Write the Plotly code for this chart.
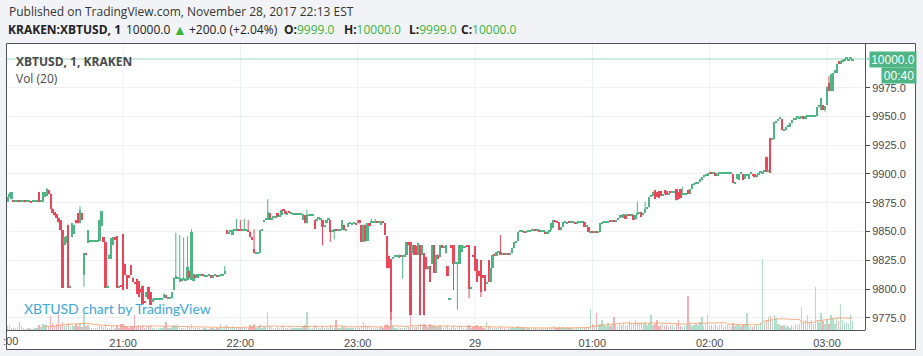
import plotly.graph_objects as go
import pandas as pd

W, H = 923, 356

# ---------------- data (1-minute bars, KRAKEN:XBTUSD) ----------------
start_time = "2017-11-28 20:00"

opens = [
    9870, 9876, 9880, 9878, 9877, 9876, 9876, 9877, 9876, 9876,
    9876.5, 9876, 9876, 9876, 9876, 9876, 9876, 9884, 9876, 9876,
    9880, 9881, 9886, 9883, 9870, 9867, 9865, 9862, 9860, 9851,
    9838, 9840, 9856, 9801, 9845, 9848, 9860, 9866, 9857, 9866,
    9812, 9831, 9840, 9841, 9841, 9841, 9841, 9841, 9842, 9855,
    9845, 9841, 9801, 9826, 9826, 9838, 9845, 9846, 9801, 9803,
    9848, 9822, 9812, 9812, 9821, 9810, 9806, 9809, 9807, 9800,
    9803, 9789, 9793, 9802, 9797, 9789, 9791, 9791, 9791, 9791,
    9791, 9792, 9795, 9792, 9792, 9792, 9799, 9809, 9809, 9806,
    9808, 9808, 9807, 9808, 9816, 9808, 9807, 9812, 9810, 9812,
    9812, 9813, 9811, 9811, 9812, 9812, 9810, 9812, 9812, 9811,
    9812, 9812, 9813, 9851, 9848, 9850, 9847, 9851, 9851, 9852,
    9851, 9851, 9851, 9851, 9851, 9850, 9845, 9835, 9831, 9831,
    9831, 9851, 9858, 9860, 9860, 9866, 9860, 9862, 9862, 9866,
    9863, 9864, 9869, 9868, 9865, 9868, 9866, 9865, 9865, 9865,
    9865, 9865, 9860, 9864, 9857, 9864, 9864, 9864, 9860, 9859,
    9861, 9860, 9860, 9854, 9857, 9860, 9860, 9850, 9850, 9852,
    9851, 9851, 9851, 9856, 9851, 9854, 9857, 9856.5, 9857, 9857,
    9857, 9860, 9856, 9841, 9856, 9842, 9857, 9858, 9858, 9858,
    9859, 9858, 9856, 9859, 9857, 9846, 9829, 9826, 9826, 9828,
    9828, 9827, 9829, 9828, 9828, 9830, 9841, 9841, 9831, 9838,
    9837, 9830, 9838, 9830, 9831, 9828, 9817, 9820, 9822, 9838,
    9814, 9830, 9828, 9838, 9836, 9831, 9820, 9790.5, 9838, 9838,
    9822, 9822, 9822, 9832, 9836, 9836, 9838, 9838, 9800, 9830,
    9837, 9826, 9816, 9825, 9812, 9812, 9805, 9825, 9806, 9818,
    9830, 9829, 9832, 9832, 9830, 9830.5, 9830, 9831, 9830, 9831,
    9836, 9840, 9842, 9850, 9850, 9850, 9849, 9850, 9850, 9851,
    9851, 9852, 9851, 9851, 9850, 9850, 9850, 9848, 9850, 9851,
    9853, 9860, 9859, 9858, 9851, 9854, 9858, 9857, 9858, 9857.5,
    9858, 9858, 9857, 9858, 9858, 9858, 9858, 9854, 9854, 9849.5,
    9850, 9849.5, 9850, 9849, 9850, 9857, 9858, 9858, 9858, 9859,
    9858.5, 9859, 9858, 9860, 9862, 9864, 9862, 9864, 9864, 9864.5,
    9864, 9864, 9861, 9864, 9866, 9867, 9864, 9866, 9870, 9871,
    9880, 9881, 9886, 9884, 9885, 9885, 9881, 9886, 9885, 9882,
    9885, 9884, 9884, 9887, 9884, 9887, 9882, 9882, 9882, 9886,
    9883, 9887, 9890, 9891, 9892, 9893, 9895, 9897, 9898, 9899,
    9900.5, 9900.5, 9900, 9900.5, 9899, 9900, 9900.5, 9900.5, 9900.5, 9900.5,
    9900.5, 9900.5, 9900, 9892, 9896, 9895, 9900, 9900, 9896, 9899,
    9896, 9900, 9900, 9900, 9897, 9899, 9901, 9900, 9902, 9915,
    9902, 9931, 9930, 9930, 9945, 9946, 9948, 9948, 9938, 9938,
    9941, 9941, 9944, 9947, 9947, 9949, 9948, 9949, 9950, 9948,
    9950, 9950, 9950, 9950, 9950, 9950, 9958, 9956, 9960, 9956,
    9960, 9979, 9972, 9972, 9988, 9988, 9998, 9996, 9998, 9998,
    10000, 9999, 10000, 9999,
]

closes = [
    9876, 9880, 9883, 9884, 9876, 9876, 9877, 9876, 9876, 9876.5,
    9876, 9876, 9876, 9875.5, 9876, 9876, 9877, 9876, 9877, 9884,
    9884, 9887, 9883, 9870, 9866, 9864, 9862, 9858, 9851, 9801,
    9845, 9846, 9801, 9803, 9857, 9856, 9857, 9857, 9869, 9860,
    9831, 9830, 9851, 9841, 9842, 9841, 9842, 9841, 9860, 9868,
    9841, 9801, 9803, 9830, 9844, 9845, 9843, 9801, 9803, 9802,
    9799, 9812, 9800, 9810, 9812, 9806, 9805, 9796, 9793, 9797,
    9787, 9788, 9797, 9791, 9786, 9791, 9791, 9791.5, 9791, 9792,
    9791, 9796, 9792, 9792, 9793, 9797, 9810, 9811, 9810, 9810,
    9807, 9809, 9808, 9819, 9810, 9850, 9813, 9810, 9813, 9812,
    9813, 9811, 9811, 9812, 9812, 9810, 9812, 9812, 9811, 9812,
    9812, 9813, 9816, 9848, 9850, 9851, 9851, 9851, 9851, 9851,
    9850.5, 9851, 9851, 9851, 9850, 9845, 9843, 9831, 9831, 9831,
    9851, 9851, 9860, 9860.5, 9867, 9860, 9862, 9862, 9862, 9863,
    9863, 9869, 9868, 9865, 9865, 9866, 9866, 9865, 9865, 9865,
    9865, 9865, 9865, 9857, 9864, 9864, 9864, 9864, 9852, 9861,
    9861, 9860, 9854, 9854, 9860, 9860, 9850, 9850, 9852, 9851,
    9851, 9851, 9860, 9851, 9851, 9857, 9857, 9856.5, 9857, 9856.5,
    9860, 9857, 9841, 9856, 9842, 9857, 9855, 9858, 9858.5, 9859,
    9858, 9858, 9859, 9858, 9847, 9818, 9818, 9780, 9828, 9828,
    9829, 9830, 9828, 9828, 9830, 9841, 9838, 9777, 9838, 9830,
    9830, 9840, 9777, 9838, 9777, 9817, 9820, 9806, 9838, 9814,
    9830, 9826, 9838, 9836, 9836, 9838, 9811, 9791, 9836, 9822,
    9822, 9822, 9838, 9838, 9836, 9837, 9837, 9800, 9802, 9828,
    9816, 9806, 9811, 9797, 9810, 9798, 9806, 9806, 9818, 9830,
    9829.5, 9832, 9832, 9830, 9830.5, 9830, 9830, 9830, 9831, 9836,
    9841, 9841, 9850, 9850, 9850.5, 9849, 9850, 9850, 9851, 9851,
    9852, 9851, 9851, 9850, 9850, 9850, 9848, 9850, 9850, 9857,
    9860, 9859, 9858, 9851, 9854, 9858, 9858, 9858, 9857.5, 9858,
    9858, 9857, 9858, 9858, 9858, 9858, 9854, 9854, 9850, 9850,
    9849.5, 9849.5, 9849, 9850, 9857, 9858, 9858.5, 9858, 9859, 9858.5,
    9859, 9858.5, 9860, 9862, 9864, 9863, 9865, 9861, 9864, 9864,
    9864, 9860, 9864, 9866, 9866, 9863, 9866, 9870, 9871, 9880,
    9881, 9884, 9878, 9880, 9879, 9881, 9882, 9883, 9882, 9883,
    9884, 9884, 9884, 9877, 9878, 9879, 9882, 9882, 9882, 9883,
    9887, 9891, 9892, 9893, 9893, 9896, 9897, 9899, 9900, 9900.5,
    9900.5, 9900, 9900.5, 9899, 9899.5, 9900.5, 9900.5, 9900.5, 9900.5, 9900.5,
    9900.5, 9900.5, 9892, 9893, 9900, 9900, 9900, 9895, 9900, 9900,
    9900, 9900, 9899, 9897, 9899, 9901, 9901, 9902, 9902, 9902,
    9903, 9901, 9931, 9945, 9946, 9948, 9948, 9938, 9939, 9941,
    9941, 9944, 9947, 9947, 9949, 9949, 9949, 9950, 9948, 9950,
    9950, 9950, 9950, 9950, 9950, 9958, 9960, 9966, 9956, 9959,
    9976, 9972, 9987, 9988, 9990, 9996, 9996, 9998, 9998, 10000,
    10000, 10000, 10000, 10000,
]

# wick extremes beyond the candle body (minute index -> price)
wick_highs = {2: 9884, 21: 9888, 38: 9872, 87: 9849, 89: 9847, 91: 9845,
              93: 9846, 95: 9852, 112: 9820, 118: 9861, 120: 9860, 122: 9861,
              124: 9860, 127: 9852, 134: 9878, 154: 9869, 187: 9861, 189: 9861,
              253: 9847, 323: 9876, 327: 9876, 346: 9889, 421: 9985}
wick_lows = {40: 9802, 162: 9838, 166: 9841, 168: 9843, 197: 9773, 203: 9809,
             229: 9799, 231: 9782, 237: 9792, 243: 9793, 419: 9954}

volumes = [
    1.5, 2.0, 2.5, 1.0, 1.2, 0.8, 1.5, 4.0, 2.0, 1.0,
    0.6, 0.8, 1.0, 0.5, 0.7, 1.2, 1.0, 2.5, 1.5, 3.0,
    2.5, 3.0, 2.0, 7.0, 3.5, 2.0, 3.0, 8.5, 2.5, 4.0,
    2.0, 2.5, 3.5, 1.5, 2.5, 2.0, 3.0, 2.0, 3.5, 1.5,
    8.5, 2.0, 2.5, 1.0, 0.8, 1.2, 0.8, 1.0, 2.5, 2.0,
    1.5, 3.0, 1.0, 1.2, 2.0, 1.5, 1.0, 2.5, 1.0, 3.0,
    3.0, 2.0, 1.5, 1.0, 2.0, 1.5, 7.5, 2.0, 2.5, 1.5,
    2.5, 1.0, 1.5, 2.0, 2.5, 1.0, 0.8, 0.6, 1.0, 0.8,
    1.0, 1.5, 4.0, 1.0, 1.2, 1.5, 2.5, 2.0, 3.0, 1.5,
    1.0, 1.2, 1.0, 2.0, 1.5, 3.0, 1.5, 1.0, 1.2, 0.8,
    0.6, 1.0, 0.8, 0.5, 0.7, 1.0, 0.8, 0.6, 1.0, 0.8,
    3.0, 1.0, 2.0, 2.5, 1.5, 1.0, 2.0, 1.2, 1.5, 1.0,
    1.0, 1.5, 0.8, 1.2, 1.0, 2.5, 2.0, 3.0, 1.0, 1.5,
    2.5, 1.0, 1.5, 2.0, 9.0, 2.0, 1.5, 1.0, 1.2, 1.5,
    1.0, 2.0, 1.5, 1.2, 1.0, 1.5, 1.0, 0.8, 1.0, 0.8,
    1.0, 0.8, 2.0, 2.5, 9.0, 2.0, 1.0, 1.2, 2.5, 1.5,
    1.0, 1.2, 2.0, 1.0, 1.5, 1.0, 2.5, 1.5, 1.0, 5.0,
    1.0, 1.2, 2.0, 1.5, 1.0, 1.2, 0.8, 1.0, 0.8, 1.0,
    1.5, 1.2, 2.0, 4.0, 2.5, 2.0, 1.5, 1.0, 0.8, 1.0,
    0.8, 1.0, 1.5, 1.0, 2.5, 3.0, 2.0, 9.0, 2.0, 1.0,
    1.0, 1.5, 1.0, 1.2, 1.0, 2.0, 1.5, 7.0, 2.0, 1.5,
    1.5, 2.0, 3.0, 1.5, 3.0, 2.0, 1.5, 3.0, 2.5, 2.0,
    2.0, 1.5, 2.5, 1.5, 1.0, 2.0, 2.5, 1.0, 1.5, 2.0,
    1.0, 1.5, 2.0, 1.5, 1.0, 1.0, 1.5, 2.5, 1.0, 1.5,
    2.0, 2.5, 1.5, 2.0, 1.0, 1.0, 4.0, 2.0, 1.5, 1.0,
    1.0, 1.2, 0.8, 1.5, 1.0, 0.8, 0.7, 1.0, 0.8, 1.5,
    1.2, 1.0, 2.0, 1.0, 0.8, 1.0, 0.7, 0.8, 1.0, 0.8,
    1.0, 0.8, 1.0, 0.7, 0.8, 1.2, 1.0, 0.8, 1.0, 1.5,
    2.0, 1.5, 1.0, 1.5, 1.2, 1.5, 1.0, 0.8, 1.0, 1.0,
    0.8, 1.0, 0.8, 1.2, 1.0, 0.8, 1.0, 1.5, 1.5, 10.5,
    3.0, 2.0, 8.5, 2.5, 3.0, 5.0, 2.5, 2.0, 3.5, 2.0,
    2.5, 6.5, 3.0, 2.0, 3.0, 2.5, 3.5, 2.0, 2.5, 4.5,
    3.0, 3.0, 5.0, 4.0, 3.5, 4.0, 3.0, 4.0, 2.5, 3.5,
    7.5, 2.5, 3.0, 5.0, 2.0, 2.5, 3.5, 2.0, 2.5, 1.5,
    2.0, 2.5, 1.5, 3.0, 5.0, 2.0, 1.5, 2.0, 2.5, 17.0,
    3.0, 2.0, 2.5, 3.0, 2.5, 4.0, 6.5, 2.0, 3.0, 7.5,
    2.0, 2.5, 1.5, 3.0, 2.0, 2.5, 3.0, 1.5, 2.0, 2.5,
    2.0, 1.5, 3.5, 2.0, 2.5, 3.0, 2.0, 2.5, 3.0, 8.5,
    2.5, 2.0, 1.5, 2.0, 3.0, 2.0, 3.5, 35.5, 4.0, 5.0,
    6.5, 7.0, 5.0, 7.5, 6.0, 3.0, 2.5, 2.0, 2.5, 1.5,
    2.0, 1.0, 2.5, 1.5, 3.0, 2.5, 3.0, 11.5, 4.0, 5.0,
    7.5, 4.0, 5.0, 3.0, 21.5, 5.0, 4.0, 8.5, 4.5, 3.0,
    5.0, 3.0, 7.5, 5.5, 3.0, 6.0, 4.5, 13.0, 5.0, 3.5,
    4.0, 3.0, 7.5, 4.5,
]

price_ticks = [9775, 9800, 9825, 9850, 9875, 9900, 9925, 9950, 9975]
time_ticks = ["2017-11-28 21:00", "2017-11-28 22:00", "2017-11-28 23:00",
              "2017-11-29 00:00", "2017-11-29 01:00", "2017-11-29 02:00",
              "2017-11-29 03:00"]
time_labels = ["21:00", "22:00", "23:00", "29", "01:00", "02:00", "03:00"]
grid_times = ["2017-11-28 20:00"] + time_ticks

last_price = 10000.0

assert len(opens) == len(closes) == len(volumes)

# ---------------- derived ----------------
n = len(opens)
times = pd.date_range(start_time, periods=n, freq="1min")
highs = [max(o, c, wick_highs.get(i, o)) for i, (o, c) in enumerate(zip(opens, closes))]
lows = [min(o, c, wick_lows.get(i, o)) for i, (o, c) in enumerate(zip(opens, closes))]
vol_ma = pd.Series(volumes).rolling(20).mean()

UP = "#4fb584"
DOWN = "#e8485a"
UP_VOL = "rgba(83,185,135,0.45)"
DOWN_VOL = "rgba(235,77,92,0.45)"
is_up = [c >= o for o, c in zip(opens, closes)]
vol_colors = [UP_VOL if u else DOWN_VOL for u in is_up]
body_colors = [UP if u else DOWN for u in is_up]
MIN_BODY = 1.0
body_base = [min(o, c) for o, c in zip(opens, closes)]
body_len = [max(abs(c - o), MIN_BODY) for o, c in zip(opens, closes)]

AXIS_FONT = dict(family="Liberation Sans, Arial, sans-serif", size=11, color="#4a4a4a")


def px(x):
    return x / W


def py(y):
    return 1 - y / H


def wick_xy(up_flag):
    xs, ys = [], []
    for t, hi, lo, u in zip(times, highs, lows, is_up):
        if u == up_flag:
            xs += [t, t, None]
            ys += [lo, hi, None]
    return xs, ys


fig = go.Figure()

fig.add_trace(go.Bar(
    x=times, y=volumes, yaxis="y2", marker=dict(color=vol_colors, line=dict(width=0)),
    width=42000, hoverinfo="skip", showlegend=False,
))
fig.add_trace(go.Scatter(
    x=times, y=vol_ma, yaxis="y2", mode="lines",
    line=dict(color="rgba(245,155,100,0.8)", width=1), hoverinfo="skip", showlegend=False,
))
for flag, col in ((True, UP), (False, DOWN)):
    wx, wy = wick_xy(flag)
    fig.add_trace(go.Scatter(x=wx, y=wy, mode="lines", line=dict(color=col, width=1),
                             hoverinfo="skip", showlegend=False, connectgaps=False))
fig.add_trace(go.Bar(
    x=times, y=body_len, base=body_base,
    marker=dict(color=body_colors, line=dict(width=0)),
    width=72000, hoverinfo="skip", showlegend=False,
))

x_left, x_right, y_top, y_bot = 6, 865, 43, 330
frame_right, frame_bot = 916, 350

fig.update_layout(
    width=W, height=H,
    margin=dict(l=0, r=0, t=0, b=0),
    paper_bgcolor="#f1f3f6",
    plot_bgcolor="white",
    bargap=0, barmode="overlay",
    xaxis=dict(
        domain=[px(x_left), px(x_right)],
        type="date",
        range=["2017-11-28 20:00:09", "2017-11-29 03:19:26"],
        tickvals=time_ticks, ticktext=time_labels,
        showgrid=False,
        zeroline=False, showline=False,
        ticks="outside", ticklen=3, tickcolor="rgba(0,0,0,0)",
        tickfont=AXIS_FONT,
        rangeslider=dict(visible=False), fixedrange=True,
    ),
    yaxis=dict(
        domain=[py(y_bot), py(y_top)],
        range=[9764.35, 10013.9],
        side="right",
        tickvals=price_ticks, ticktext=[f"{v:.1f}" for v in price_ticks],
        showgrid=True, gridcolor="#eef0f3", gridwidth=1,
        zeroline=False, showline=False,
        ticks="outside", ticklen=4, tickcolor="#4a4a4a",
        tickfont=AXIS_FONT, fixedrange=True,
    ),
    yaxis2=dict(
        overlaying="y", range=[0, 143.5], visible=False, fixedrange=True,
    ),
)

shapes = [
    # white chart panel
    dict(type="rect", xref="paper", yref="paper", x0=px(x_left), x1=px(frame_right),
         y0=py(frame_bot), y1=py(y_top), fillcolor="white", line=dict(width=0), layer="below"),
]
# vertical hour grid lines
for t in grid_times:
    shapes.append(dict(type="line", xref="x", yref="paper", x0=t, x1=t,
                       y0=py(y_bot), y1=py(y_top), line=dict(color="#eef0f3", width=1), layer="below"))
shapes += [
    # last price line
    dict(type="line", xref="paper", yref="y", x0=px(x_left), x1=px(x_right),
         y0=last_price, y1=last_price, line=dict(color="rgba(83,185,135,0.55)", width=1), layer="above"),
    # frame
    dict(type="rect", xref="paper", yref="paper", x0=px(x_left + 0.5), x1=px(frame_right - 0.5),
         y0=py(frame_bot - 0.5), y1=py(y_top + 0.5), line=dict(color="#50535e", width=1), layer="above"),
    dict(type="line", xref="paper", yref="paper", x0=px(x_right + 0.5), x1=px(x_right + 0.5),
         y0=py(y_bot), y1=py(y_top), line=dict(color="#50535e", width=1), layer="above"),
    dict(type="line", xref="paper", yref="paper", x0=px(x_left), x1=px(x_right + 0.5),
         y0=py(y_bot + 0.5), y1=py(y_bot + 0.5), line=dict(color="#50535e", width=1), layer="above"),
    # price tick for last price
    dict(type="line", xref="paper", yref="y", x0=px(x_right), x1=px(x_right + 4),
         y0=last_price, y1=last_price, line=dict(color=UP, width=1), layer="above"),
]
fig.update_layout(shapes=shapes)

HEAD_FONT = "Open Sans, Noto Sans, sans-serif"
GREEN_TXT = "#3cb43c"


def head(text, x, y, size=12, color="#222222"):
    return dict(text=text, x=px(x), y=py(y), xref="paper", yref="paper",
                xanchor="left", yanchor="middle", showarrow=False,
                font=dict(family=HEAD_FONT, size=size, color=color))


def gval(v):
    return f"<span style='color:{GREEN_TXT}'>{v}</span>"


annotations = [
    head("Published on TradingView.com, November 28, 2017 22:13 EST", 7, 12, color="#333333"),
    head("<b>KRAKEN:XBTUSD, 1</b>", 6, 30),
    head("10000.0", 124, 30),
    head("▲", 171, 30, size=14, color=GREEN_TXT),
    head("+200.0 (+2.04%)", 187, 30),
    head("<b>O:</b>" + gval("9999.0"), 282, 30),
    head("<b>H:</b>" + gval("10000.0"), 342, 30),
    head("<b>L:</b>" + gval("9999.0"), 407, 30),
    head("<b>C:</b>" + gval("10000.0"), 459, 30),
    head("<b>XBTUSD, 1, KRAKEN</b>", 14, 61, color="#4a4a4a"),
    head("Vol (20)", 14, 78, color="#4a4a4a"),
    dict(text="XBTUSD chart by TradingView", x=px(22), y=py(308), xref="paper", yref="paper",
         xanchor="left", yanchor="middle", showarrow=False,
         font=dict(family="Lato, Open Sans, sans-serif", size=14, color="#3ea8dc")),
    dict(text=":00", x=px(1), y=py(341), xref="paper", yref="paper",
         xanchor="left", yanchor="middle", showarrow=False, font=AXIS_FONT),
    dict(text="10000.0", x=px(869), y=py(59), xref="paper", yref="paper",
         xanchor="left", yanchor="middle", showarrow=False, width=46, height=15,
         bgcolor=UP, borderpad=0, align="center",
         font=dict(family=AXIS_FONT["family"], size=12, color="white")),
    dict(text="00:40", x=px(881), y=py(75), xref="paper", yref="paper",
         xanchor="left", yanchor="middle", showarrow=False, width=34, height=15,
         bgcolor=UP, borderpad=0, align="center",
         font=dict(family=AXIS_FONT["family"], size=12, color="white")),
]
fig.update_layout(annotations=annotations)

fig.write_html("out.html", config={"displayModeBar": False})
